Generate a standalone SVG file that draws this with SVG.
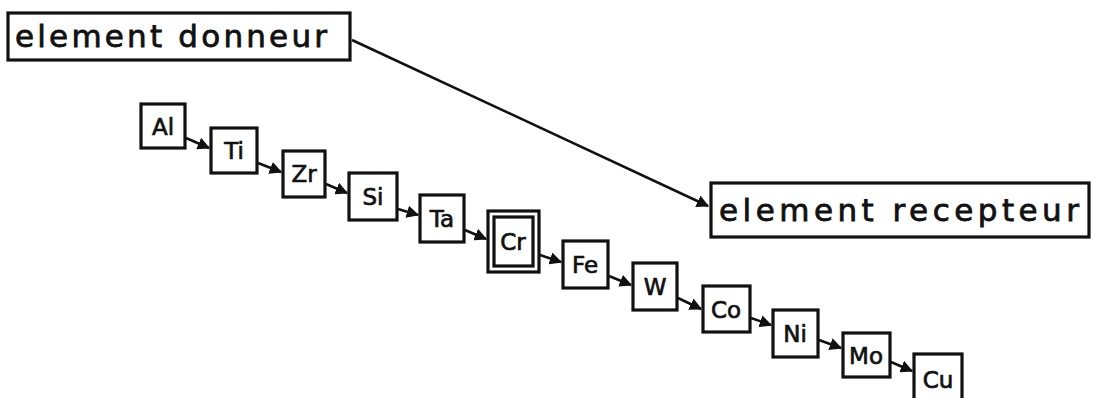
<svg xmlns="http://www.w3.org/2000/svg" width="1095" height="398" viewBox="0 0 1095 398">
<defs>
<style>
.box{fill:#fff;stroke:#111;stroke-width:3.2}
.lbl{font-family:"DejaVu Sans","Liberation Sans",sans-serif;fill:#111;stroke:#111;stroke-width:0.7;text-anchor:middle}
.big{font-family:"DejaVu Sans","Liberation Sans",sans-serif;fill:#111;stroke:#111;stroke-width:0.8;font-size:31px}
.el{font-size:23px}
.conn{stroke:#111;stroke-width:2.5;fill:none}
</style>
<marker id="ah" viewBox="0 0 10 10" refX="9" refY="5" markerWidth="5" markerHeight="5" orient="auto" markerUnits="strokeWidth">
<path d="M0,0 L10,5 L0,10 z" fill="#111"/>
</marker>
</defs>
<rect width="1095" height="398" fill="#fff"/>
<g id="connectors">
<line class="conn" x1="352" y1="40" x2="708" y2="206" marker-end="url(#ah)"/>
<line class="conn" x1="186" y1="138" x2="209" y2="148" marker-end="url(#ah)"/>
<line class="conn" x1="258" y1="163" x2="281" y2="172" marker-end="url(#ah)"/>
<line class="conn" x1="326" y1="184" x2="347" y2="193" marker-end="url(#ah)"/>
<line class="conn" x1="398" y1="209" x2="418" y2="215" marker-end="url(#ah)"/>
<line class="conn" x1="465" y1="230" x2="486" y2="239" marker-end="url(#ah)"/>
<line class="conn" x1="540" y1="255" x2="561" y2="262" marker-end="url(#ah)"/>
<line class="conn" x1="609" y1="276" x2="631" y2="285" marker-end="url(#ah)"/>
<line class="conn" x1="678" y1="298" x2="701" y2="309" marker-end="url(#ah)"/>
<line class="conn" x1="751" y1="318" x2="771" y2="325" marker-end="url(#ah)"/>
<line class="conn" x1="819" y1="340" x2="841" y2="348" marker-end="url(#ah)"/>
<line class="conn" x1="891" y1="362" x2="912" y2="371" marker-end="url(#ah)"/>
</g>
<g id="donneur"><rect class="box" x="8" y="13" width="342" height="47"/><text class="big" x="15" y="47" textLength="312" lengthAdjust="spacing">element donneur</text></g>
<g id="recepteur"><rect class="box" x="711" y="183" width="378" height="54"/><text class="big" x="719" y="221" textLength="360" lengthAdjust="spacing">element recepteur</text></g>
<g id="Al"><rect class="box" x="141" y="104" width="44" height="44"/><text class="lbl el" x="163" y="135">Al</text></g>
<g id="Ti"><rect class="box" x="211" y="128" width="46" height="45"/><text class="lbl el" x="234" y="159">Ti</text></g>
<g id="Zr"><rect class="box" x="283" y="151" width="42" height="46"/><text class="lbl el" x="304" y="182">Zr</text></g>
<g id="Si"><rect class="box" x="349" y="173" width="48" height="47"/><text class="lbl el" x="373" y="205">Si</text></g>
<g id="Ta"><rect class="box" x="420" y="195" width="44" height="47"/><text class="lbl el" x="442" y="227">Ta</text></g>
<g id="Cr"><rect class="box" x="488" y="211" width="51" height="61"/><rect class="box" x="494" y="217" width="39" height="49"/><text class="lbl el" x="513" y="250">Cr</text></g>
<g id="Fe"><rect class="box" x="563" y="241" width="45" height="47"/><text class="lbl el" x="585" y="273">Fe</text></g>
<g id="W"><rect class="box" x="633" y="263" width="44" height="47"/><text class="lbl el" x="655" y="295">W</text></g>
<g id="Co"><rect class="box" x="703" y="286" width="47" height="46"/><text class="lbl el" x="726" y="318">Co</text></g>
<g id="Ni"><rect class="box" x="773" y="310" width="45" height="47"/><text class="lbl el" x="795" y="342">Ni</text></g>
<g id="Mo"><rect class="box" x="843" y="333" width="47" height="44"/><text class="lbl el" x="866" y="364">Mo</text></g>
<g id="Cu"><rect class="box" x="914" y="354" width="48" height="50"/><text class="lbl el" x="938" y="388">Cu</text></g>
</svg>
